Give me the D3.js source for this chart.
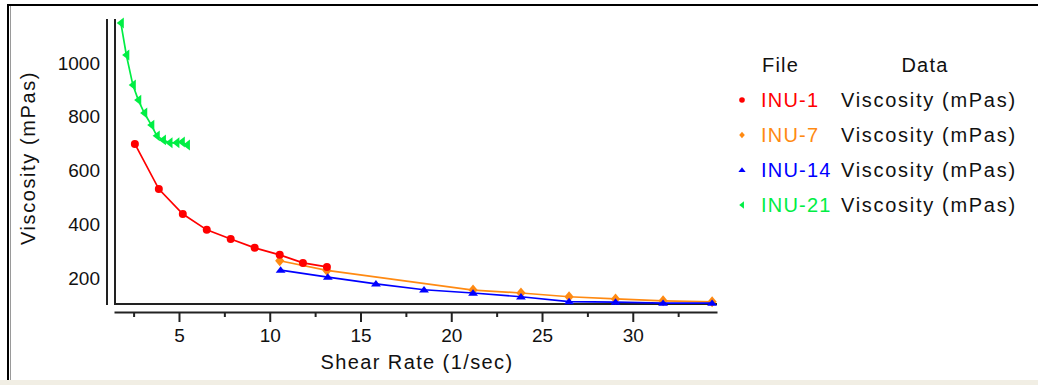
<!DOCTYPE html>
<html>
<head>
<meta charset="utf-8">
<script src="https://cdn.jsdelivr.net/npm/d3@7"></script>
<style>
  html, body { margin: 0; padding: 0; background: #ffffff; }
  svg { display: block; }
  text { font-family: "Liberation Sans", Arial, sans-serif; fill: #111; }
</style>
</head>
<body>
<svg id="chart" width="1038" height="385"></svg>
<script>
// Viscosity curves: shear rate (1/sec) vs viscosity (mPas)
const inu1Rate = [2.57, 3.89, 5.21, 6.53, 7.85, 9.17, 10.55, 11.83, 13.15];
const inu1Visc = [699, 531, 438, 379, 345, 312, 286, 256, 241];

const inu7Rate = [10.55, 13.15, 21.2, 23.84, 26.49, 29.05, 31.67, 34.37];
const inu7Visc = [264, 228, 155, 144, 130, 122, 115, 111];

const inu14Rate = [10.6, 13.2, 15.85, 18.5, 21.2, 23.84, 26.49, 29.05, 31.67, 34.37];
const inu14Visc = [229, 203, 178, 156, 144, 130, 112, 110, 106, 106];

const inu21Rate = [1.80, 2.10, 2.46, 2.76, 3.09, 3.48, 3.78, 4.12, 4.48, 4.86, 5.16, 5.44];
const inu21Visc = [1149, 1030, 918, 862, 814, 769, 729, 714, 703, 703, 706, 695];

const seriesNames = ["INU-1", "INU-7", "INU-14", "INU-21"];
const seriesColors = ["#ff0000", "#ff8a12", "#0000ff", "#00ee44"];
const dataLabel = "Viscosity (mPas)";

const xMajorTicks = [5, 10, 15, 20, 25, 30];
const xMinorTicks = [2.5, 7.5, 12.5, 17.5, 22.5, 27.5, 32.5];
const yTicks = [200, 400, 600, 800, 1000];

const xTitle = "Shear Rate (1/sec)";
const yTitle = "Viscosity (mPas)";

const svg = d3.select("#chart");

// window frame
svg.append("rect").attr("x", 0).attr("y", 380).attr("width", 1038).attr("height", 5).attr("fill", "#f1eee4");
svg.append("line").attr("x1", 7).attr("x2", 1038).attr("y1", 5).attr("y2", 5).attr("stroke", "#000").attr("stroke-width", 2);
svg.append("line").attr("x1", 8).attr("x2", 8).attr("y1", 4).attr("y2", 380).attr("stroke", "#000").attr("stroke-width", 2);
svg.append("line").attr("x1", 10.5).attr("x2", 10.5).attr("y1", 6).attr("y2", 380).attr("stroke", "#9a9a9a").attr("stroke-width", 1);

const plotLeft = 114, plotRight = 717, plotTop = 19, plotBottom = 304;

const x = d3.scaleLinear().domain([1.42, 34.64]).range([plotLeft, plotRight]);
const y = d3.scaleLinear().domain([103, 1164]).range([plotBottom, plotTop]);

// plot frame (left and bottom)
svg.append("path")
  .attr("d", `M${plotLeft + 1},${plotTop}V${plotBottom}H${plotRight}`)
  .attr("fill", "none").attr("stroke", "#222").attr("stroke-width", 2);

// y axis
const yAxis = svg.append("g")
  .attr("transform", "translate(107,0)")
  .call(d3.axisLeft(y).tickValues(yTicks).tickSize(0).tickPadding(7).tickFormat(d3.format("d")));
yAxis.select(".domain").attr("stroke", "#222").attr("stroke-width", 2)
  .attr("d", `M0,${plotTop}V${plotBottom + 1}`);
yAxis.selectAll("text").style("font-size", "19px").attr("fill", "#111")
  .attr("font-family", "Liberation Sans, Arial, sans-serif");

// x axis: major ticks with labels, minor ticks without
const xAxis = svg.append("g")
  .attr("transform", `translate(0,312)`)
  .call(d3.axisBottom(x).tickValues(xMajorTicks).tickSize(10).tickSizeOuter(0).tickPadding(7).tickFormat(d3.format("d")));
xAxis.select(".domain").attr("stroke", "#222").attr("stroke-width", 2);
xAxis.selectAll(".tick line").attr("stroke", "#222").attr("stroke-width", 2);
xAxis.selectAll("text").style("font-size", "19px").attr("fill", "#111")
  .attr("font-family", "Liberation Sans, Arial, sans-serif");

const xMinor = svg.append("g")
  .attr("transform", `translate(0,312)`)
  .call(d3.axisBottom(x).tickValues(xMinorTicks).tickSize(5).tickSizeOuter(0).tickFormat(""));
xMinor.select(".domain").remove();
xMinor.selectAll(".tick line").attr("stroke", "#222").attr("stroke-width", 2);

// axis titles
svg.append("text")
  .attr("x", 417).attr("y", 369)
  .attr("text-anchor", "middle")
  .style("font-size", "20px").style("letter-spacing", "1.4px")
  .text(xTitle);

svg.append("text")
  .attr("transform", "translate(35,158) rotate(-90)")
  .attr("text-anchor", "middle")
  .style("font-size", "20px").style("letter-spacing", "1.6px")
  .text(yTitle);

// marker shapes per series
const markerPaths = [
  s => `M0,${-s}A${s},${s} 0 1,1 0,${s}A${s},${s} 0 1,1 0,${-s}Z`,                 // circle
  s => `M0,${-s * 1.2}L${s},0L0,${s * 1.2}L${-s},0Z`,                                 // diamond
  s => `M0,${-s}L${s * 1.3},${s * 0.7}L${-s * 1.3},${s * 0.7}Z`,                      // up triangle
  s => `M${-s},0L${s * 0.7},${-s * 1.3}L${s * 0.7},${s * 1.3}Z`                       // left triangle
];

const series = [
  { rate: inu7Rate, visc: inu7Visc, idx: 1, size: 4.6 },
  { rate: inu14Rate, visc: inu14Visc, idx: 2, size: 3.8 },
  { rate: inu21Rate, visc: inu21Visc, idx: 3, size: 4.2 },
  { rate: inu1Rate, visc: inu1Visc, idx: 0, size: 4 }
];

const line = d3.line().x(d => x(d[0])).y(d => y(d[1]));

const plot = svg.append("g");
series.forEach(s => {
  const pts = s.rate.map((r, i) => [r, s.visc[i]]);
  plot.append("path")
    .datum(pts)
    .attr("d", line)
    .attr("fill", "none")
    .attr("stroke", seriesColors[s.idx])
    .attr("stroke-width", 1.7);
  plot.selectAll(null)
    .data(pts)
    .enter().append("path")
    .attr("transform", d => `translate(${x(d[0])},${y(d[1])})`)
    .attr("d", markerPaths[s.idx](s.size))
    .attr("fill", seriesColors[s.idx]);
});

// legend
const legend = svg.append("g");
legend.append("text").attr("x", 762).attr("y", 72)
  .style("font-size", "20px").style("letter-spacing", "1.2px").text("File");
legend.append("text").attr("x", 925).attr("y", 72).attr("text-anchor", "middle")
  .style("font-size", "20px").style("letter-spacing", "1.2px").text("Data");

const rows = legend.selectAll("g.row")
  .data(seriesNames)
  .enter().append("g")
  .attr("class", "row")
  .attr("transform", (d, i) => `translate(0,${107 + i * 35})`);

rows.append("path")
  .attr("transform", "translate(742,-7)")
  .attr("d", (d, i) => markerPaths[i](2.8))
  .attr("fill", (d, i) => seriesColors[i]);

rows.append("text")
  .attr("x", 761).attr("y", 0)
  .style("font-size", "20px").style("letter-spacing", "1.2px")
  .style("fill", (d, i) => seriesColors[i])
  .text(d => d);

rows.append("text")
  .attr("x", 841).attr("y", 0)
  .style("font-size", "20px").style("letter-spacing", "1.7px")
  .text(dataLabel);
</script>
</body>
</html>
